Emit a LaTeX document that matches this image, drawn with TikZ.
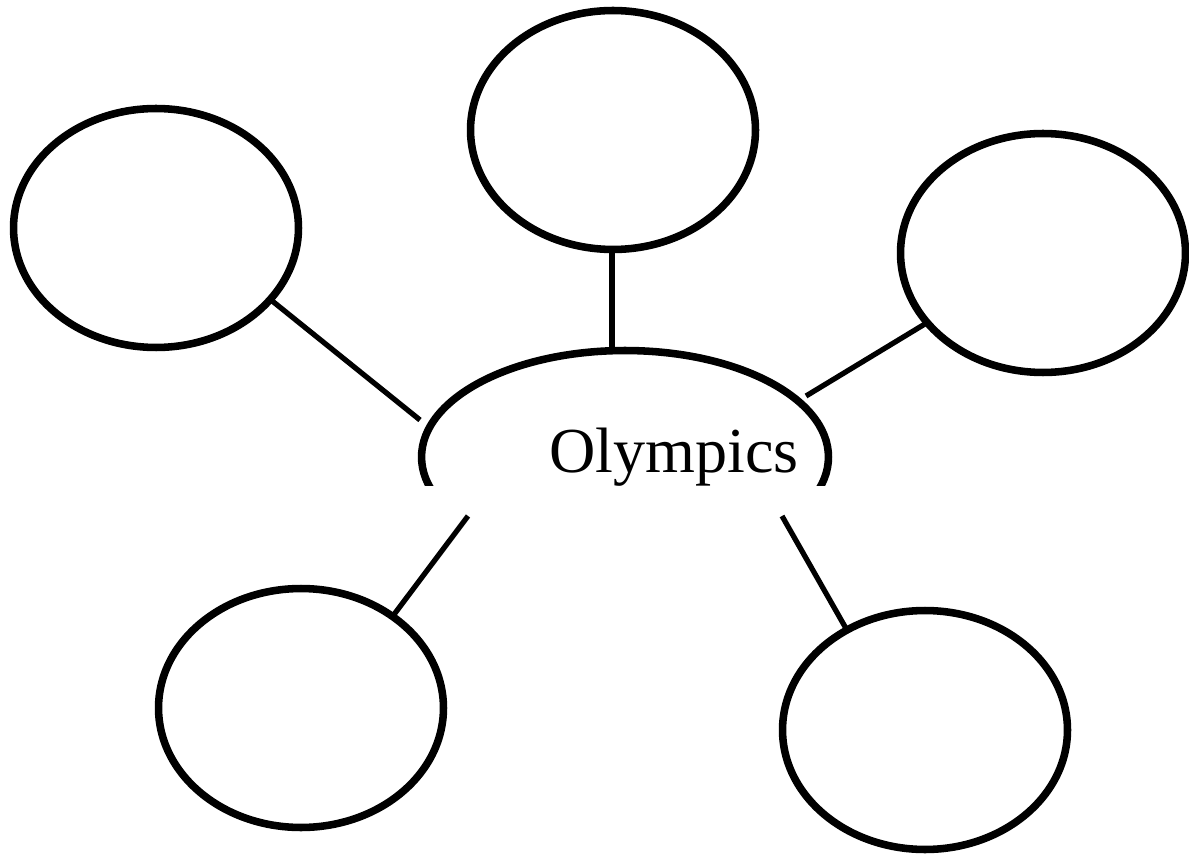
\documentclass[tikz,border=0pt]{standalone}
\usepackage{fontspec}
\setmainfont{Liberation Serif}
\usepackage{tikz}
\usetikzlibrary{shapes.geometric}

\tikzset{
  bubble/.style={draw, ellipse, line width=4.3pt, inner sep=0pt, outer sep=0pt,
    minimum width=5.7cm, minimum height=4.78cm},
  hub/.style={draw, ellipse, line width=4.3pt, inner sep=0pt, outer sep=0pt,
    minimum width=8.14cm, minimum height=4.26cm},
  link/.style={line width=3pt}
}

\begin{document}
\begin{tikzpicture}[x=0.02cm,y=-0.02cm]
  \useasboundingbox (0,0) rectangle (1189,854);

  % centre bubble, open at the bottom
  \begin{scope}
    \clip (0,0) rectangle (1189,485);
    \node[hub] (hub) at (625,457) {};
  \end{scope}
  \node[anchor=base, font=\fontsize{36.5}{40}\selectfont] (title) at (674,472) {Olympics};

  % outer bubbles
  \node[bubble] (tl) at (156,228) {};
  \node[bubble] (top) at (613,130) {};
  \node[bubble] (rt) at (1043,253) {};
  \node[bubble] (bl) at (301,708) {};
  \node[bubble] (br) at (925,730) {};

  % where the spokes stop near the centre
  \coordinate (hubtl) at (420,420);
  \coordinate (hubtop) at (612,347);
  \coordinate (hubrt) at (806,396);
  \coordinate (hubbl) at (468,516);
  \coordinate (hubbr) at (782,516);

  \draw[link] (tl.-32) -- (hubtl);
  \draw[link] (top.south) ++(-1,0) -- (hubtop);
  \draw[link] (rt.-149) -- (hubrt);
  \draw[link] (bl.45) -- (hubbl);
  \draw[link] (br.128) -- (hubbr);
\end{tikzpicture}
\end{document}
